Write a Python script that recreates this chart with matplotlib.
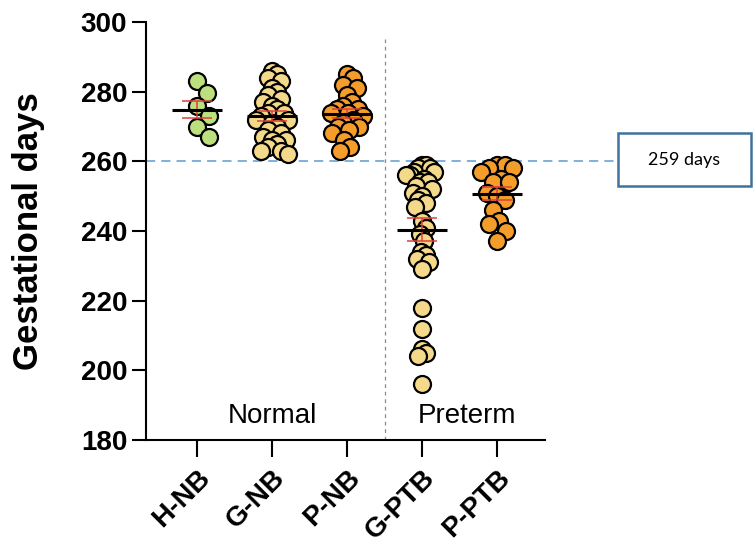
import numpy as np
import matplotlib.pyplot as plt
from matplotlib.patches import Rectangle

groups = ["H-NB", "G-NB", "P-NB", "G-PTB", "P-PTB"]

# gestational days per newborn
h_nb = [283, 279.5, 276, 273, 270, 267]
g_nb = [286, 285, 284, 283, 281, 280, 279, 278, 277, 276, 275, 274, 274, 273,
        272, 272, 271, 270, 269, 268, 267, 266, 266, 265, 264, 263, 263, 262]
p_nb = [285, 284, 282, 281, 279, 277, 276, 275, 275, 274, 274, 273, 272, 271,
        270, 270, 269, 268, 266, 264, 263]
g_ptb = [259, 259, 258, 258, 257, 257, 256, 256, 255, 254, 254, 253, 252, 251,
         250, 249, 248, 247, 243, 241, 239, 237, 234, 233, 232, 231, 229,
         218, 212, 206, 205, 204, 196]
p_ptb = [259, 259, 258, 258, 257, 255, 254, 254, 251, 250, 249, 246, 243, 242,
         240, 237]
data = [h_nb, g_nb, p_nb, g_ptb, p_ptb]

fills = ["#bde07e", "#f5d98a", "#f59d2a", "#f5d98a", "#f59d2a"]
cutoff = 260
cutoff_label = "259 days"

plt.rcParams['font.family'] = ['Liberation Sans', 'DejaVu Sans']

fig = plt.figure(figsize=(7.53, 5.51), dpi=100)
ax = fig.add_axes([0.194, 0.2015, 0.53, 0.7585])
ax.set_xlim(-0.68, 4.64)
ax.set_ylim(180, 300)


def swarm(ax, xc, values, diam, max_half):
    # beeswarm: each point goes to the free spot nearest the centre (pixel space),
    # then the whole swarm is squeezed so it is no wider than max_half each side
    tr = ax.transData
    ys = tr.transform(np.column_stack([np.full(len(values), xc), values]))[:, 1]
    xs = np.zeros(len(values))
    placed = []
    for i in np.argsort(-ys):
        cands = [0.0]
        for px, py in placed:
            dy = ys[i] - py
            if abs(dy) < diam:
                dx = np.sqrt(diam ** 2 - dy ** 2)
                cands += [px + dx, px - dx]
        cands.sort(key=lambda c: (abs(c), -c))
        for c in cands:
            if all((c - px) ** 2 + (ys[i] - py) ** 2 >= diam ** 2 - 1e-6 for px, py in placed):
                xs[i] = c
                break
        placed.append((xs[i], ys[i]))
    widest = np.abs(xs).max()
    if widest > max_half:
        xs = xs * max_half / widest
    unit = tr.transform((xc + 1, 0))[0] - tr.transform((xc, 0))[0]
    return xc + xs / unit


for i, vals in enumerate(data):
    vals = np.array(vals, dtype=float)
    xs = swarm(ax, i, vals, 16, 16)
    ax.scatter(xs, vals, s=150, facecolor=fills[i], edgecolor="black",
               linewidth=1.6, zorder=2)
    m = vals.mean()
    sem = vals.std(ddof=1) / np.sqrt(len(vals))
    ax.errorbar(i, m, yerr=sem, fmt="none", ecolor="#e0403a", elinewidth=1.3,
                capsize=11, capthick=1.3, zorder=3, alpha=0.85)
    ax.hlines(m, i - 0.33, i + 0.33, color="black", lw=2.2, zorder=4)

# normal / preterm split
ax.plot([2.5, 2.5], [180, 295], ls=(0, (3, 3)), color="#8a8a8a", lw=0.9, zorder=1)
ax.text(1.0, 187, "Normal", ha="center", va="center", fontsize=20)
ax.text(3.6, 187, "Preterm", ha="center", va="center", fontsize=20)

# 259-day threshold running out to the call-out box
ax.plot([-0.68, 5.75], [cutoff, cutoff], ls=(0, (6, 4)),
        color="#5b9bd5", lw=1.1, clip_on=False, zorder=1)
fig.patches.append(Rectangle((0.8207, 0.6624), 0.1766, 0.0962, transform=fig.transFigure,
                             facecolor="white", edgecolor="#41719c", lw=1.8))
fig.text(0.909, 0.7105, cutoff_label, ha="center", va="center", fontsize=13, family="Lato")

ax.set_xticks(range(len(groups)))
ax.set_xticklabels(groups, rotation=45, ha="right", rotation_mode="anchor",
                   fontsize=20, fontweight="bold")
ax.set_yticks(range(180, 301, 20))
ax.tick_params(axis="y", labelsize=20, length=10, width=1.5)
ax.tick_params(axis="x", length=12, width=1.5, pad=6)
for lbl in ax.get_yticklabels():
    lbl.set_fontweight("bold")
ax.set_ylabel("Gestational days", fontsize=25, fontweight="bold", va="center")
ax.yaxis.set_label_coords(-0.295, 0.5)

for s in ["top", "right"]:
    ax.spines[s].set_visible(False)
for s in ["left", "bottom"]:
    ax.spines[s].set_linewidth(1.5)

fig.savefig("out.png", dpi=100)
